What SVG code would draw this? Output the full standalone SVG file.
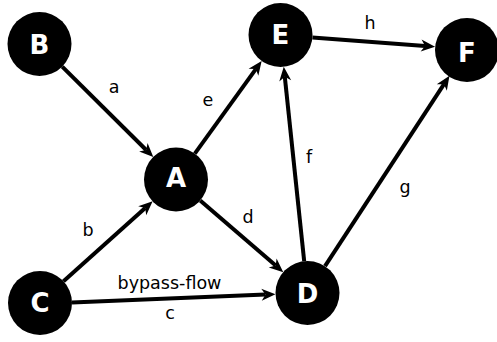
<svg xmlns="http://www.w3.org/2000/svg" width="497" height="342" viewBox="0 0 497 342">
<style>
.node circle{fill:#000}
.node text{fill:#fff;font-family:"DejaVu Sans",sans-serif;font-weight:bold;font-size:26px;text-anchor:middle}
.edge{stroke:#000;stroke-width:4;fill:none;marker-end:url(#arr)}
.lbl{font-family:"DejaVu Sans",sans-serif;font-size:17.5px;fill:#000;text-anchor:middle}
</style>
<defs>
<marker id="arr" markerUnits="userSpaceOnUse" markerWidth="20" markerHeight="20" refX="4" refY="0" viewBox="-2 -8 20 16" orient="auto">
<path d="M0,-6 L14,0 L0,6 L4,0 Z" fill="#000"/>
</marker>
</defs>
<rect width="497" height="342" fill="#fff"/>
<g id="connectors">
<line class="edge" x1="62.2" y1="66.6" x2="146.2" y2="150.0"/>
<line class="edge" x1="63.5" y1="281.3" x2="145.2" y2="208.0"/>
<line class="edge" x1="194.8" y1="153.6" x2="255.8" y2="69.1"/>
<line class="edge" x1="200.2" y1="200.4" x2="275.7" y2="265.6"/>
<line class="edge" x1="72" y1="302.6" x2="265.5" y2="294.6"/>
<line class="edge" x1="304.2" y1="261.2" x2="284.8" y2="76.8"/>
<line class="edge" x1="325" y1="266.2" x2="444.0" y2="84.2"/>
<line class="edge" x1="312.4" y1="37.4" x2="425.1" y2="45.9"/>
<text class="lbl" x="114" y="93">a</text>
<text class="lbl" x="208" y="106">e</text>
<text class="lbl" x="370" y="29">h</text>
<text class="lbl" x="309" y="163">f</text>
<text class="lbl" x="405" y="193">g</text>
<text class="lbl" x="88" y="236">b</text>
<text class="lbl" x="248" y="223">d</text>
<text class="lbl" x="169.5" y="289">bypass-flow</text>
<text class="lbl" x="170" y="319">c</text>
</g>
<g id="node-B" class="node"><circle cx="39.5" cy="44" r="32"/><text x="39.5" y="53.5">B</text></g>
<g id="node-A" class="node"><circle cx="176" cy="179.5" r="32"/><text x="176" y="187">A</text></g>
<g id="node-E" class="node"><circle cx="280.5" cy="35" r="32"/><text x="280.5" y="44">E</text></g>
<g id="node-F" class="node"><circle cx="467" cy="50" r="32"/><text x="467" y="62">F</text></g>
<g id="node-C" class="node"><circle cx="40" cy="303" r="32"/><text x="40" y="312">C</text></g>
<g id="node-D" class="node"><circle cx="307.5" cy="293" r="32"/><text x="307.5" y="303">D</text></g>
</svg>
